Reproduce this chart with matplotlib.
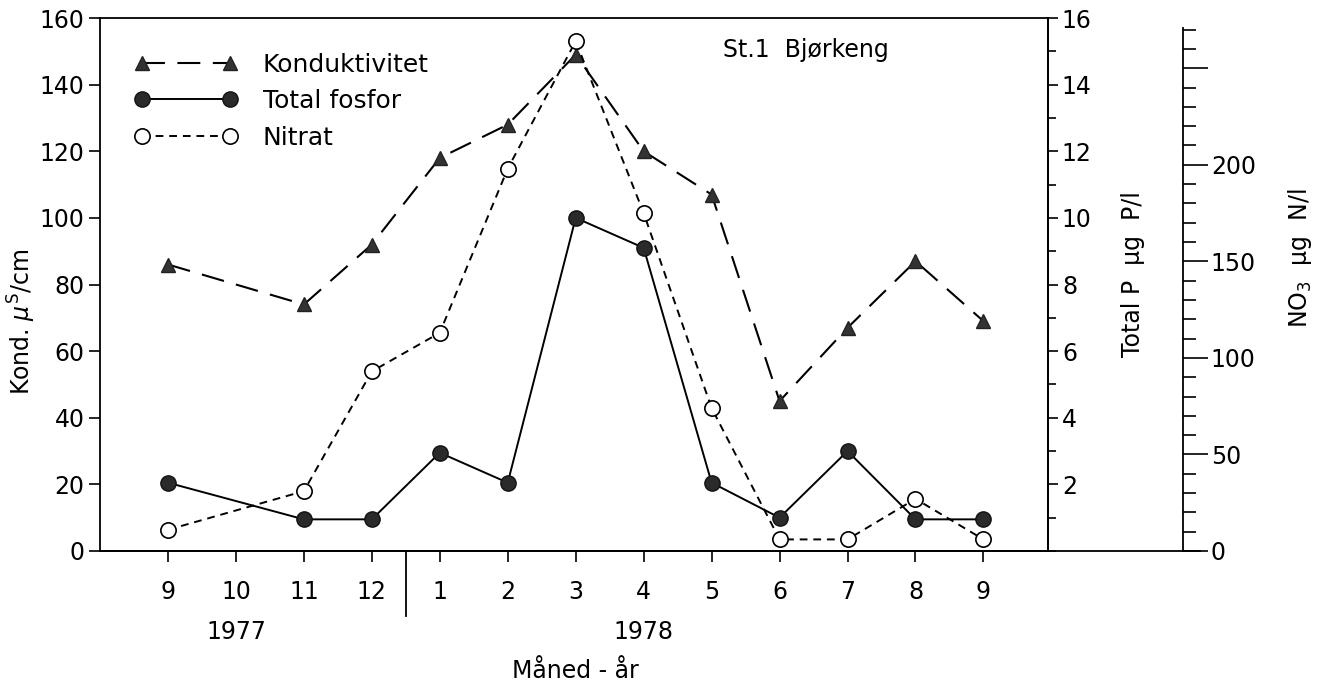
import numpy as np
import matplotlib.pyplot as plt
from matplotlib.lines import Line2D
from matplotlib.ticker import MultipleLocator, FixedLocator

# data (month 10 of 1977 has no sample)
months = ["9", "10", "11", "12", "1", "2", "3", "4", "5", "6", "7", "8", "9"]
kond = [86, np.nan, 74, 92, 118, 128, 149, 120, 107, 45, 67, 87, 69]          # uS/cm
fosfor = [2.05, np.nan, 0.95, 0.95, 2.95, 2.05, 10.0, 9.1, 2.05, 1.0, 3.0, 0.95, 0.95]  # ug P/l
nitrat = [11, np.nan, 31, 93, 113, 198, 264, 175, 74, 6, 6, 27, 6]            # ug N/l
years = ["1977", "1978"]
year_centre = [1, 7]

plt.rcParams["font.family"] = ["DejaVu Sans"]
plt.rcParams["font.size"] = 17

fig = plt.figure(figsize=(13.27, 6.89), dpi=100)
ax = fig.add_axes([100 / 1327, 1 - 551 / 689, 948 / 1327, 533 / 689])
ax2 = ax.twinx()
ax3 = ax.twinx()

x = np.arange(len(months))


def valid(vals):
    vals = np.asarray(vals, dtype=float)
    m = ~np.isnan(vals)
    return x[m], vals[m]


xk, yk = valid(kond)
h1, = ax.plot(xk, yk, color="black", lw=1.5, ls=(0, (11, 6)),
              marker="^", ms=10, mfc="#333333", mec="#222222", label="Konduktivitet")
xf, yf = valid(fosfor)
h2, = ax2.plot(xf, yf, color="black", lw=1.4, ls="-",
               marker="o", ms=11, mfc="#2a2a2a", mec="#111111", label="Total fosfor")
xn, yn = valid(nitrat)
h3, = ax3.plot(xn, yn, color="black", lw=1.4, ls=(0, (4, 3)),
               marker="o", ms=11, mfc="white", mec="black", mew=1.2, label="Nitrat")

# left axis
ax.set_xlim(-1, 12.95)
ax.set_ylim(0, 160)
ax.set_yticks(range(0, 161, 20))
ax.tick_params(axis="y", direction="out", length=8, width=1.2, pad=3)
ax.set_xticks(x, months)
ax.tick_params(axis="x", direction="out", length=8, width=1.2, pad=13)
for s in ax.spines.values():
    s.set_linewidth(1.3)
ax.text(-0.082, 0.43, r"Kond. $\mu^{\mathrm{S}}$/cm", rotation=90,
        transform=ax.transAxes, ha="center", va="center")

# P axis
ax2.set_ylim(0, 16)
ax2.set_yticks(range(2, 17, 2))
ax2.yaxis.set_minor_locator(MultipleLocator(1))
ax2.tick_params(axis="y", which="major", direction="out", length=7, width=1.2, pad=3)
ax2.tick_params(axis="y", which="minor", direction="out", length=6, width=1.2)
for k in ["top", "left", "bottom"]:
    ax2.spines[k].set_visible(False)
ax2.spines["right"].set_linewidth(1.3)
ax2.text(1.09, 0.52, "Total P  μg  P/l", rotation=90,
         transform=ax.transAxes, ha="center", va="center")

# NO3 axis
ax3.set_ylim(0, 276)
for k in ["top", "left", "bottom"]:
    ax3.spines[k].set_visible(False)
ax3.spines["right"].set_position(("axes", 1.1425))
ax3.spines["right"].set_bounds(0, 271)
ax3.spines["right"].set_linewidth(1.3)
ax3.set_yticks([0, 50, 100, 150, 200, 250], ["0", "50", "100", "150", "200", ""])
ax3.yaxis.set_minor_locator(FixedLocator([v for v in range(10, 271, 10) if v % 50]))
ax3.tick_params(axis="y", which="major", direction="out", length=18, width=1.2, pad=2)
ax3.tick_params(axis="y", which="minor", direction="out", length=9, width=1.2)
ax3.text(1.266, 0.55, r"NO$_3$  μg  N/l", rotation=90,
         transform=ax.transAxes, ha="center", va="center")

# bottom line continues under the NO3 axis
ax.add_line(Line2D([0, 1.16], [0, 0], transform=ax.transAxes, color="black",
                   lw=1.3, clip_on=False))
# year divider and labels
xt = ax.get_xaxis_transform()
ax.add_line(Line2D([3.5, 3.5], [0, -0.122], transform=xt, color="black",
                   lw=1.3, clip_on=False))
for yr, pos in zip(years, year_centre):
    ax.text(pos, -0.152, yr, transform=xt, ha="center", va="center")
ax.text(6, -0.226, "Måned - år", transform=xt, ha="center", va="center")

ax.text(0.657, 0.94, "St.1  Bjørkeng", transform=ax.transAxes,
        ha="left", va="center")

ax3.legend(handles=[h1, h2, h3], loc="upper left", bbox_to_anchor=(0.036, 0.935),
           frameon=False, numpoints=2, handlelength=4.15, handletextpad=1.0,
           labelspacing=0.5, borderpad=0, borderaxespad=0, fontsize=18)

fig.savefig("out.png", dpi=100)
